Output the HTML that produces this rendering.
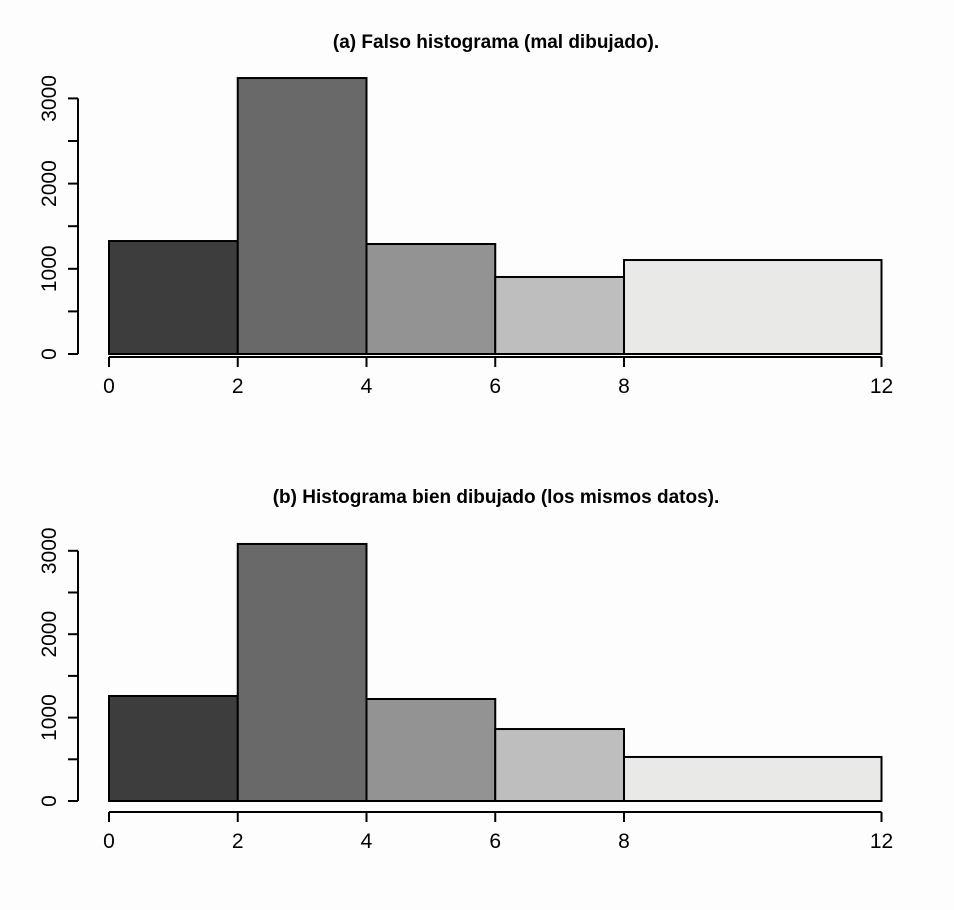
<!DOCTYPE html>
<html><head><meta charset="utf-8"><style>
body{margin:0;background:#fdfdfd;}
svg{display:block;font-family:"Liberation Sans",Arial,sans-serif;}
</style></head><body>
<svg id="c" width="954" height="910" xmlns="http://www.w3.org/2000/svg">
<rect width="954" height="910" fill="#fdfdfd"/>
</svg>
<script>
const breaks = [0, 2, 4, 6, 8, 12];
const xTicks = [0, 2, 4, 6, 8, 12];
const yTicks = [0, 1000, 2000, 3000];
const fills = ['#3d3d3d', '#696969', '#939393', '#bebebe', '#e9e9e8'];
const countsA = [1326, 3239, 1291, 904, 1103];
const countsB = [1259, 3082, 1223, 863, 528];
const titleA = '(a) Falso histograma (mal dibujado).';
const titleB = '(b) Histograma bien dibujado (los mismos datos).';

const svg = document.getElementById('c');
const NS = 'http://www.w3.org/2000/svg';
function mk(tag, attrs, parent) {
  const e = document.createElementNS(NS, tag);
  for (const k in attrs) e.setAttribute(k, attrs[k]);
  (parent || svg).appendChild(e);
  return e;
}
function panel(id, values, title, y0px, pxPer1000, xAxisY, titleY) {
  const g = mk('g', {});
  
  
  const xs = v => 109 + v * (881.5 - 109) / 12;
  const ys = v => y0px - v * pxPer1000 / 1000;
  const t = mk('text', {x: 496, y: titleY, 'text-anchor': 'middle', 'font-size': 19, 'font-weight': 'bold', fill: '#000'}, g);
  t.textContent = title;
  
  
  values.forEach((v, i) => {
    const r = mk('rect', {x: xs(breaks[i]), y: ys(v), width: xs(breaks[i+1]) - xs(breaks[i]), height: ys(0) - ys(v), fill: fills[i], stroke: '#000', 'stroke-width': 2}, g);
    
    
  });
  const ya = mk('g', {}, g);
  
  
  mk('line', {x1: 78, x2: 78, y1: ys(0), y2: ys(3000), stroke: '#000', 'stroke-width': 2}, ya);
  for (let v = 0; v <= 3000; v += 500) mk('line', {x1: 68, x2: 78, y1: ys(v), y2: ys(v), stroke: '#000', 'stroke-width': 2}, ya);
  yTicks.forEach(v => {
    const tx = mk('text', {x: 0, y: 0, transform: `translate(56,${ys(v)}) rotate(-90)`, 'text-anchor': 'middle', 'font-size': 21, fill: '#000'}, ya);
    tx.textContent = v;
    
    
  });
  const xa = mk('g', {}, g);
  
  
  mk('line', {x1: xs(0), x2: xs(12), y1: xAxisY, y2: xAxisY, stroke: '#000', 'stroke-width': 2}, xa);
  xTicks.forEach(v => {
    mk('line', {x1: xs(v), x2: xs(v), y1: xAxisY, y2: xAxisY + 10, stroke: '#000', 'stroke-width': 2}, xa);
    const tx = mk('text', {x: xs(v), y: xAxisY + 36, 'text-anchor': 'middle', 'font-size': 21, fill: '#000'}, xa);
    tx.textContent = v;
    
    
  });
}
panel('panel-a', countsA, titleA, 354, 85.2, 357, 48);
panel('panel-b', countsB, titleB, 801, 83.4, 812, 503);
</script>
</body></html>
